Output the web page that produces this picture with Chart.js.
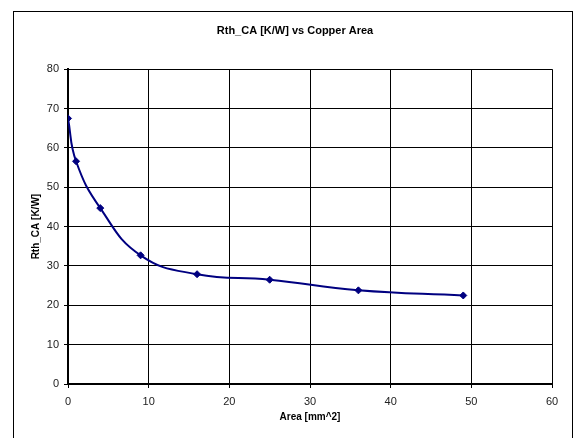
<!DOCTYPE html>
<html>
<head>
<meta charset="utf-8">
<script src="https://cdn.jsdelivr.net/npm/chart.js@4"></script>
<style>
  html, body { margin: 0; padding: 0; background: #fff; }
  #wrap { width: 577px; height: 438px; position: relative; }
</style>
</head>
<body>
<div id="wrap"><canvas id="grafico" width="577" height="438"></canvas></div>
<script>
const areas = [0, 1, 4, 9, 16, 25, 36, 49];
const rthValues = [67.5, 56.6, 44.7, 32.7, 27.9, 26.5, 23.8, 22.5];
const xTicks = [0, 10, 20, 30, 40, 50, 60];
const yTicks = [0, 10, 20, 30, 40, 50, 60, 70, 80];

const fontFam = '"Liberation Sans", Arial, sans-serif';

// marco exterior del grafico (como en Excel)
const marco = {
  id: 'marco',
  beforeDraw(chart) {
    const ctx = chart.ctx;
    ctx.save();
    ctx.fillStyle = '#fff';
    ctx.fillRect(0, 0, chart.width, chart.height);
    ctx.strokeStyle = '#000';
    ctx.lineWidth = 1;
    ctx.strokeRect(13.5, 11.5, 559, 460);
    ctx.restore();
  }
};

const ctx = document.getElementById('grafico').getContext('2d');
new Chart(ctx, {
  type: 'scatter',
  data: {
    datasets: [{
      label: 'Rth_CA',
      data: areas.map((a, i) => ({x: a, y: rthValues[i]})),
      showLine: true,
      borderColor: '#000080',
      backgroundColor: '#000080',
      borderWidth: 2,
      tension: 0.45,
      pointStyle: 'rectRot',
      pointRadius: 3.5,
      pointBorderWidth: 1
    }]
  },
  options: {
    responsive: false,
    animation: false,
    layout: { padding: { left: 38, right: 25, top: 0, bottom: 15 } },
    plugins: {
      legend: { display: false },
      tooltip: { enabled: false },
      title: {
        display: true,
        text: 'Rth_CA [K/W] vs Copper Area',
        color: '#000',
        font: { family: fontFam, size: 11, weight: 'bold' },
        padding: { top: 24, bottom: 32 }
      }
    },
    scales: {
      x: {
        type: 'linear',
        min: 0, max: 60,
        afterBuildTicks: s => { s.ticks = xTicks.map(v => ({value: v})); },
        afterFit: s => { s.height = 39; },
        ticks: { color: '#222', font: { family: fontFam, size: 11 }, padding: 7 },
        grid: { color: '#000', lineWidth: 1, tickLength: 4, tickColor: '#000' },
        border: { color: '#000', width: 2 },
        title: {
          display: true,
          text: 'Area [mm^2]',
          color: '#000',
          font: { family: fontFam, size: 10, weight: 'bold' },
          padding: { top: 0, bottom: 0 }
        }
      },
      y: {
        type: 'linear',
        min: 0, max: 80,
        afterBuildTicks: s => { s.ticks = yTicks.map(v => ({value: v})); },
        afterFit: s => { s.width = 30; },
        ticks: { color: '#222', font: { family: fontFam, size: 11 }, padding: 5 },
        grid: { color: '#000', lineWidth: 1, tickLength: 4, tickColor: '#000' },
        border: { color: '#000', width: 2 },
        title: {
          display: true,
          text: 'Rth_CA [K/W]',
          color: '#000',
          font: { family: fontFam, size: 10, weight: 'bold' },
          padding: { top: -8, bottom: 0 }
        }
      }
    }
  },
  plugins: [marco]
});
</script>
</body>
</html>
